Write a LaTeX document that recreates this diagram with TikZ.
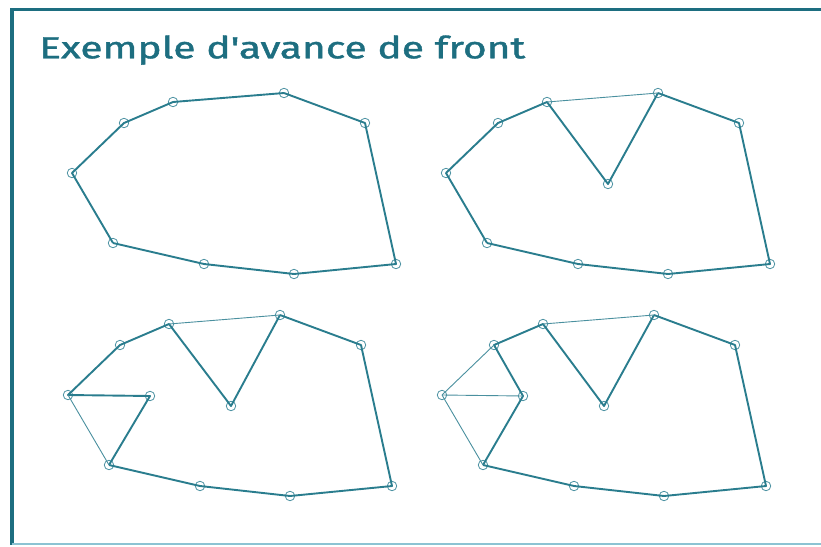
\documentclass[tikz,border=0pt]{standalone}
\usepackage{fontspec}
\newfontfamily\titlefont[FakeBold=1.2]{Fira Sans}
\usetikzlibrary{calc}
\definecolor{teal1}{HTML}{1D6E80}
\definecolor{edgec}{HTML}{2A7D8E}
\definecolor{ptc}{HTML}{4E93A3}
\definecolor{botc}{HTML}{8CC3D3}
\tikzset{
  pt/.style={circle,draw=ptc,line width=0.8pt,minimum size=9.5pt,inner sep=0pt},
  front/.style={draw=edgec,line width=1.9pt,line join=round},
  inner/.style={draw=edgec!85,line width=0.9pt},
}
\newcommand{\mypanel}[2]{%
  \begin{scope}[shift={(#1)}]
    \node[pt] (#2A) at (72,173) {};
    \node[pt] (#2B) at (124,123) {};
    \node[pt] (#2C) at (173,102) {};
    \node[pt] (#2D) at (284,93) {};
    \node[pt] (#2E) at (365,123) {};
    \node[pt] (#2F) at (396,264) {};
    \node[pt] (#2G) at (294,274) {};
    \node[pt] (#2H) at (204,264) {};
    \node[pt] (#2I) at (113,243) {};
    \draw[front] (#2D.center) -- (#2E.center) -- (#2F.center) -- (#2G.center) -- (#2H.center) -- (#2I.center);
  \end{scope}}
\begin{document}
\begin{tikzpicture}[x=1pt,y=-1pt]
\useasboundingbox (0,0) rectangle (821,546);
\fill[white] (0,0) rectangle (821,546);
% frame
\draw[teal1,line width=3pt] (10,9.5) -- (821,9.5);
\draw[teal1,line width=3.5pt] (12,8) -- (12,545);
\draw[botc,line width=2pt] (12,544) -- (821,544);
% title
\node[anchor=base west,inner sep=0pt,text=teal1] (title) at (39,58.3) {\resizebox{486pt}{\height}{\titlefont\fontsize{30.5}{36}\selectfont Exemple d'avance de front}};
% panel 1
\mypanel{0,0}{a}
\draw[front] (aI.center) -- (aA.center) -- (aB.center) -- (aC.center) -- (aD.center);
% panel 2
\mypanel{374,0}{b}
\node[pt] (bP) at (374+234,184) {};
\draw[front] (bI.center) -- (bA.center) -- (bB.center) -- (bC.center) -- (bP.center) -- (bD.center);
\draw[inner] (bC.center) -- (bD.center);
% panel 3
\mypanel{-4,222}{c}
\node[pt] (cP) at (-4+235,222+184) {};
\node[pt] (cQ) at (-4+154,222+174) {};
\draw[front] (cI.center) -- (cQ.center) -- (cA.center) -- (cB.center) -- (cC.center) -- (cP.center) -- (cD.center);
\draw[inner] (cC.center) -- (cD.center);
\draw[inner] (cA.center) -- (cI.center);
% panel 4
\mypanel{370,222}{d}
\node[pt] (dP) at (370+234,222+184) {};
\node[pt] (dQ) at (370+153,222+174) {};
\draw[front] (dI.center) -- (dQ.center) -- (dB.center) -- (dC.center) -- (dP.center) -- (dD.center);
\draw[inner] (dC.center) -- (dD.center);
\draw[inner] (dA.center) -- (dI.center);
\draw[inner] (dA.center) -- (dB.center);
\draw[inner] (dA.center) -- (dQ.center);
\end{tikzpicture}
\end{document}
